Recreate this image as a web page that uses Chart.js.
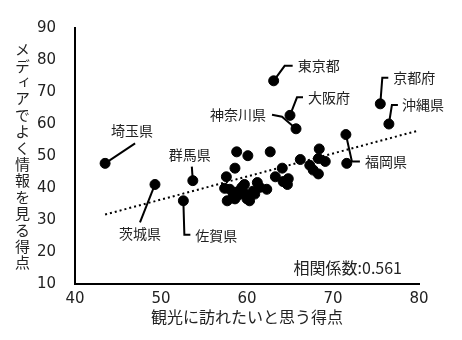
<!DOCTYPE html>
<html lang="ja">
<head>
<meta charset="utf-8">
<script src="https://cdn.jsdelivr.net/npm/chart.js@4/dist/chart.umd.min.js"></script>
<style>
    html, body { margin: 0; padding: 0; background: #fff; }
    #wrap { position: relative; width: 462px; height: 340px; }
    #yTitle {
        position: absolute;
        left: 14px;
        top: 42px;
        writing-mode: vertical-rl;
        font-family: "Noto Sans CJK JP", sans-serif;
        font-size: 15px;
        letter-spacing: 1.4px;
        line-height: 16px;
        color: #222;
    }
</style>
</head>
<body>
<div id="wrap">
    <canvas id="chart" width="462" height="340"></canvas>
    <div id="yTitle">メディアでよく情報を見る得点</div>
</div>
<script>
// 都道府県ごとの得点（名前付きのもの）
const namedPrefs = ['埼玉県', '茨城県', '群馬県', '佐賀県', '東京都', '大阪府', '神奈川県', '京都府', '沖縄県', '福岡県'];
const namedVisit = [43.5, 49.3, 53.7, 52.6, 63.1, 65.0, 65.7, 75.5, 76.5, 71.5];
const namedMedia = [47.7, 41.1, 42.3, 36.0, 73.5, 62.7, 58.5, 66.3, 60.0, 56.7];

// その他の道府県
const otherVisit = [
    58.8, 60.1, 62.7, 58.6, 57.6, 64.1, 66.2, 68.4, 68.3, 69.1,
    67.3, 67.7, 68.3, 71.6, 63.3, 64.2, 64.8, 64.7, 62.3, 61.2,
    60.7, 60.0, 59.4, 58.8, 58.4, 57.7, 57.4, 59.2, 59.8, 60.3,
    60.9, 58.6, 58.0, 59.7, 61.5, 60.3, 59.0
];
const otherMedia = [
    51.3, 50.1, 51.3, 46.2, 43.5, 46.2, 48.9, 52.2, 49.2, 48.3,
    47.1, 45.6, 44.4, 47.7, 43.5, 42.0, 42.9, 41.1, 39.6, 41.7,
    39.0, 36.6, 40.2, 38.7, 37.5, 36.0, 39.9, 39.3, 38.1, 37.5,
    38.1, 36.6, 39.6, 41.1, 40.2, 36.0, 37.8
];

// 近似直線の両端
const trendVisit = [43.5, 80];
const trendMedia = [31.7, 58.0];

const xTicks = [40, 50, 60, 70, 80];
const yTicks = [10, 20, 30, 40, 50, 60, 70, 80, 90];
const corrText = '相関係数:0.561';

const FONT = '"Noto Sans CJK JP", sans-serif';
const NUM_FONT = '"DejaVu Sans", sans-serif';
const TEXT_COLOR = '#222';

// 引き出し線（点からのオフセット, px）とラベル位置
const callouts = [
    { path: [[0, 0], [30, -20]], label: [27, -33], align: 'center' },
    { path: [[0, 0], [-15, 38]], label: [-15, 49], align: 'center' },
    { path: [[0, 0], [-1, -14]], label: [-3, -26], align: 'center' },
    { path: [[0, 0], [1, 34], [7, 34]], label: [12, 35], align: 'left' },
    { path: [[0, 0], [11, -15], [19, -15]], label: [24, -15], align: 'left' },
    { path: [[0, 0], [7, -18], [13, -18]], label: [18, -18], align: 'left' },
    { path: [[0, 0], [-14, -12], [-24, -14]], label: [-30, -14], align: 'right' },
    { path: [[0, 0], [2, -26], [8, -26]], label: [13, -26], align: 'left' },
    { path: [[0, 0], [3, -19], [9, -19]], label: [13, -19], align: 'left' },
    { path: [[0, 0], [6, 27], [14, 27]], label: [19, 27], align: 'left' }
];

const toPoints = (xs, ys) => xs.map((x, i) => ({ x: x, y: ys[i] }));

// 引き出し線とラベル、相関係数の描画
const calloutPlugin = {
    id: 'callouts',
    beforeDatasetsDraw(chart) {
        const ctx = chart.ctx;
        const xs = chart.scales.x, ys = chart.scales.y;
        ctx.save();
        ctx.strokeStyle = '#000';
        ctx.lineWidth = 2;
        callouts.forEach((c, i) => {
            const px = xs.getPixelForValue(namedVisit[i]);
            const py = ys.getPixelForValue(namedMedia[i]);
            ctx.beginPath();
            c.path.forEach(([dx, dy], j) => {
                if (j === 0) ctx.moveTo(px + dx, py + dy);
                else ctx.lineTo(px + dx, py + dy);
            });
            ctx.stroke();
        });
        ctx.restore();
    },
    afterDraw(chart) {
        const ctx = chart.ctx;
        const xs = chart.scales.x, ys = chart.scales.y;
        ctx.save();
        ctx.fillStyle = TEXT_COLOR;
        ctx.font = '14px ' + FONT;
        ctx.textBaseline = 'middle';
        callouts.forEach((c, i) => {
            const px = xs.getPixelForValue(namedVisit[i]);
            const py = ys.getPixelForValue(namedMedia[i]);
            ctx.textAlign = c.align;
            ctx.fillText(namedPrefs[i], px + c.label[0], py + c.label[1]);
        });
        const area = chart.chartArea;
        ctx.font = '16px ' + FONT;
        ctx.textAlign = 'right';
        ctx.fillText(corrText, area.right - 17, area.bottom - 16);
        ctx.restore();
    }
};

new Chart(document.getElementById('chart'), {
    type: 'scatter',
    data: {
        datasets: [
            {
                data: toPoints(namedVisit, namedMedia),
                backgroundColor: '#000',
                borderColor: '#000',
                pointRadius: 5,
                pointHoverRadius: 5
            },
            {
                data: toPoints(otherVisit, otherMedia),
                backgroundColor: '#000',
                borderColor: '#000',
                pointRadius: 5,
                pointHoverRadius: 5
            },
            {
                type: 'line',
                data: toPoints(trendVisit, trendMedia),
                borderColor: '#000',
                borderWidth: 2,
                borderDash: [2, 3],
                pointRadius: 0,
                fill: false
            }
        ]
    },
    options: {
        responsive: false,
        animation: false,
        layout: { padding: { top: 17, right: 43, left: 0, bottom: 0 } },
        plugins: {
            legend: { display: false },
            tooltip: { enabled: false }
        },
        scales: {
            x: {
                type: 'linear',
                min: 40,
                max: 80,
                afterFit: scale => { scale.height = 56; },
                afterBuildTicks: scale => { scale.ticks = xTicks.map(v => ({ value: v })); },
                grid: { display: false, drawTicks: false },
                border: { display: true, color: '#000', width: 2 },
                ticks: {
                    padding: 6,
                    color: TEXT_COLOR,
                    font: { family: NUM_FONT, size: 15 }
                },
                title: {
                    display: true,
                    text: '観光に訪れたいと思う得点',
                    color: TEXT_COLOR,
                    font: { family: FONT, size: 16 },
                    padding: { top: 0, bottom: 13 }
                }
            },
            y: {
                type: 'linear',
                min: 10,
                max: 90,
                afterFit: scale => { scale.width = 75; },
                afterBuildTicks: scale => { scale.ticks = yTicks.map(v => ({ value: v })); },
                grid: { display: false, drawTicks: false },
                border: { display: true, color: '#000', width: 2 },
                ticks: {
                    padding: 19,
                    color: TEXT_COLOR,
                    font: { family: NUM_FONT, size: 15 }
                }
            }
        }
    },
    plugins: [calloutPlugin]
});
</script>
</body>
</html>
